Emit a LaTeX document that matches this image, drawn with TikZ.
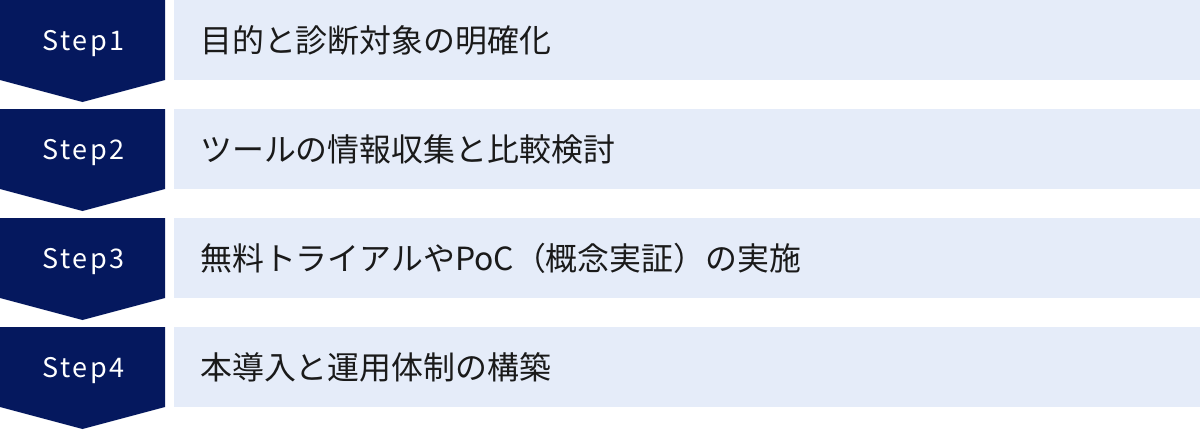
\documentclass[tikz,border=0pt]{standalone}
\usepackage{fontspec}
\setmainfont{Noto Sans CJK JP}
\newfontfamily\jpfont{Noto Sans CJK JP}
\newfontfamily\stepfont[LetterSpace=10]{Noto Sans CJK JP}
\definecolor{navy}{RGB}{5,24,94}
\definecolor{paleblue}{RGB}{229,236,249}
\definecolor{ink}{RGB}{26,26,26}
\begin{document}
\begin{tikzpicture}[x=1pt,y=-1pt,
  chevron/.style={fill=navy},
  band/.style={fill=paleblue},
  steplabel/.style={text=white,font=\stepfont\fontsize{27}{30}\selectfont,anchor=base,inner sep=0pt},
  tasklabel/.style={text=ink,font=\jpfont\fontsize{31.9}{36}\selectfont,anchor=base west,inner sep=0pt}]
\useasboundingbox (0,0) rectangle (1200,429);
\foreach \i/\t in {1/目的と診断対象の明確化,
                   2/ツールの情報収集と比較検討,
                   3/無料トライアルやPoC（概念実証）の実施,
                   4/本導入と運用体制の構築}{
  \pgfmathsetmacro\top{(\i-1)*109}
  \fill[chevron] (0,\top) -- (165,\top) -- (165,\top+80) -- (82.5,\top+102) -- (0,\top+80) -- cycle;
  \fill[band] (174,\top) rectangle (1200,\top+80);
  \node[steplabel] (step\i) at (83.5,\top+50.5) {Step\i};
  \node[tasklabel] (task\i) at (200,\top+52.5) {\t};
}
\end{tikzpicture}
\end{document}
